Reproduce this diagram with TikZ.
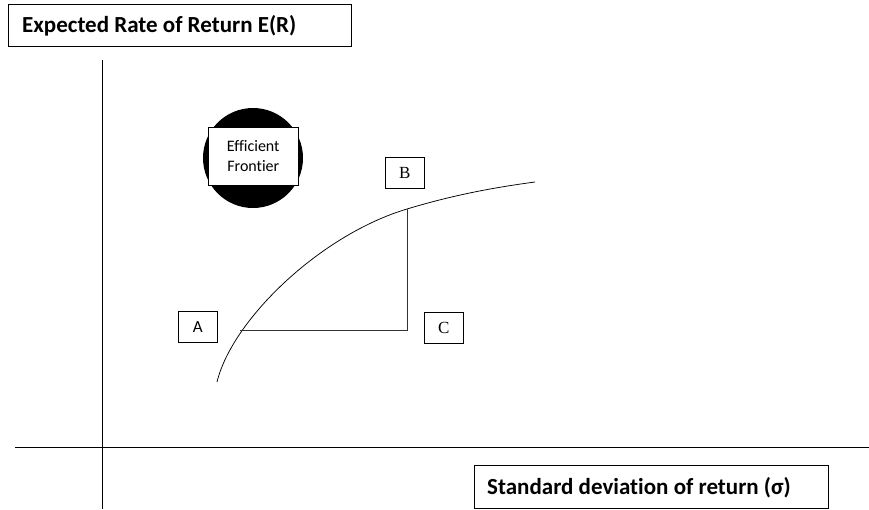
\documentclass[tikz,border=0pt]{standalone}
\usepackage{fontspec}
\setmainfont[Ligatures=NoCommon]{Carlito}
\newfontfamily\serifletter{Liberation Serif}
\begin{document}
\begin{tikzpicture}[x=1pt,y=-1pt,
  axis/.style={line width=1pt,black},
  labelbox/.style={draw,line width=0.8pt,inner sep=0pt,anchor=north west},
  titletext/.style={anchor=west,inner sep=0pt,font=\bfseries\fontsize{23}{26}\selectfont},
  letterbox/.style={draw,line width=0.6pt,minimum width=39pt,minimum height=31pt,inner sep=0pt,anchor=north west,font=\serifletter\fontsize{17}{19}\selectfont},
  curve/.style={line width=0.75pt}]
\useasboundingbox (0,0) rectangle (869,509);
\fill[white] (0,0) rectangle (869,509);
% axes
\coordinate (ytop) at (102,60);
\coordinate (ybot) at (102,509);
\coordinate (xleft) at (15,447);
\coordinate (xright) at (869,447);
\draw[axis] (ytop) -- (ybot);
\draw[axis] (xleft) -- (xright);
% axis titles
\node[labelbox,minimum width=343pt,minimum height=42pt] (ylabel) at (8,4) {};
\node[titletext] (ytext) at (22,26) {Expected Rate of Return E(R)};
\node[labelbox,minimum width=354pt,minimum height=43pt] (xlabel) at (474,465) {};
\node[titletext] (xtext) at (487,488) {Standard deviation of return (σ)};
% efficient frontier badge
\fill[black] (253,158) ellipse (50 and 50);
\node[draw,fill=white,line width=0.6pt,minimum width=90pt,minimum height=58pt,inner sep=0pt,anchor=north west,align=center,font=\fontsize{16}{20}\selectfont] (ef) at (208,127) {Efficient\\Frontier};
% frontier curve
\coordinate (fstart) at (217,382);
\coordinate (pB) at (407,209);
\coordinate (fend) at (535,182);
\draw[curve] (fstart) .. controls (232,320) and (320,235) .. (pB)
                      .. controls (450,196) and (490,188) .. (fend);
\coordinate (pA) at (240,330);
\coordinate (corner) at (407,330);
\draw[line width=0.75pt,black!80] (pA) -- (corner) -- (pB);
% point labels
\node[letterbox] (A) at (178,311) {\fontspec{Carlito}A};
\node[letterbox] (B) at (385,157) {B};
\node[letterbox] (C) at (424,312) {C};
\end{tikzpicture}
\end{document}
